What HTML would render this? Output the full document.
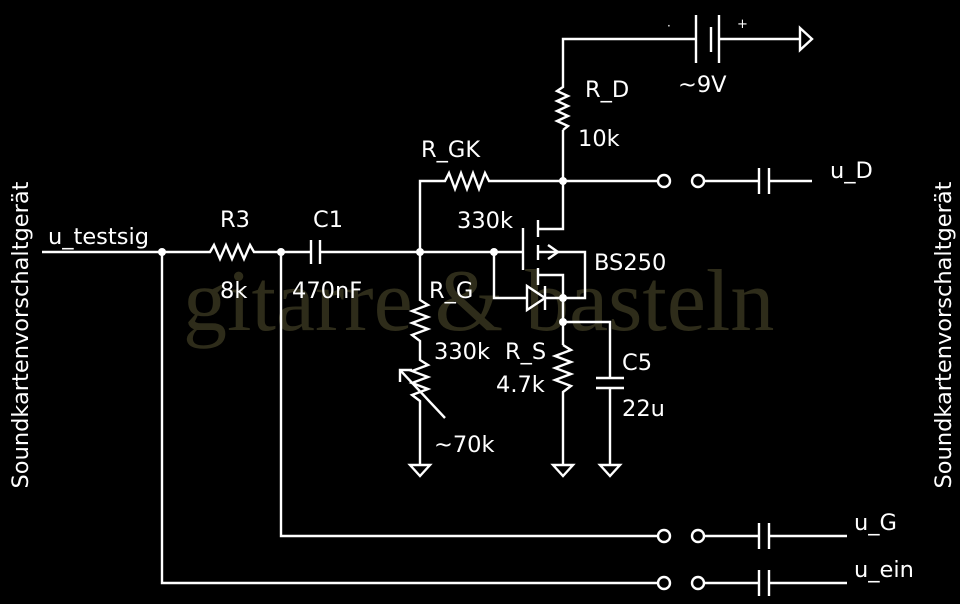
<!DOCTYPE html>
<html><head><meta charset="utf-8"><style>
html,body{margin:0;padding:0;background:#000;}
svg{display:block}
text{font-family:"DejaVu Sans","Liberation Sans",sans-serif;fill:#fff;font-size:22.5px}
</style></head><body>
<svg width="960" height="604" viewBox="0 0 960 604" xmlns="http://www.w3.org/2000/svg">
<text x="183" y="330" style="font-family:'Liberation Serif',serif;font-size:88px;fill:#2e2c1a">gitarre &amp; basteln</text>
<g stroke="#fff" stroke-width="2.4" fill="none">
<polyline points="563,181 563,130"/>
<polyline points="563,130 568,126 557,121 568,116 557,111 568,106 557,101 568,96 557,91 563,87 563,39 696,39"/>
<line x1="696" y1="15" x2="696" y2="63"/>
<line x1="711" y1="27" x2="711" y2="52"/>
<line x1="719" y1="15" x2="719" y2="63"/>
<line x1="719" y1="39" x2="800" y2="39"/>
<polygon points="800,28 812,39 800,50"/>
<polyline points="563,181 658,181"/>
<polyline points="420,251 420,181 445,181 449,173 455,189 461,173 467,189 473,173 479,189 485,173 489,181 563,181"/>
<circle cx="664" cy="181" r="6"/><circle cx="698" cy="181" r="6"/>
<line x1="704" y1="181" x2="759" y2="181"/><line x1="759" y1="168" x2="759" y2="194"/><line x1="769" y1="168" x2="769" y2="194"/><line x1="769" y1="181" x2="812" y2="181"/>
<polyline points="42,252 210,252 214,245 220,259 226,245 232,259 238,245 244,259 250,245 254,252 311,252"/>
<line x1="311" y1="240" x2="311" y2="264"/><line x1="320" y1="240" x2="320" y2="264"/>
<line x1="320" y1="252" x2="523" y2="252"/>
<line x1="523" y1="228" x2="523" y2="270"/>
<line x1="538" y1="220" x2="538" y2="237"/><line x1="538" y1="245" x2="538" y2="260"/><line x1="538" y1="268" x2="538" y2="285"/>
<polyline points="538,229 563,229 563,181"/>
<polyline points="538,252 585,252 585,298 563,298"/>
<polyline points="548,245 558,252 548,259"/>
<polyline points="538,275 563,275 563,298"/>
<polyline points="494,252 494,298 527,298"/>
<polygon points="527,286 545,298 527,310"/>
<line x1="545" y1="286" x2="545" y2="310"/><line x1="545" y1="298" x2="563" y2="298"/>
<line x1="563" y1="298" x2="563" y2="345"/>
<polyline points="563,345 571,350 555,356 571,362 555,368 571,374 555,380 571,386 563,392 563,465"/>
<polyline points="563,322 610,322 610,377"/>
<line x1="596" y1="378" x2="624" y2="378"/><line x1="596" y1="388" x2="624" y2="388"/>
<line x1="610" y1="388" x2="610" y2="465"/>
<polyline points="420,252 420,300 428,305 412,311 428,317 412,323 428,329 412,335 420,341 420,360 428,365 412,371 428,377 412,383 428,389 412,395 420,401 420,465"/>
<line x1="400" y1="370" x2="445" y2="418"/>
<polyline points="400,382 400,370 412,370"/>
<polygon points="410,465 430,465 420,476"/>
<polygon points="553,465 573,465 563,476"/>
<polygon points="600,465 620,465 610,476"/>
<polyline points="281,252 281,536 658,536"/>
<polyline points="162,252 162,583 658,583"/>
<circle cx="664" cy="536" r="6"/><circle cx="698" cy="536" r="6"/>
<line x1="704" y1="536" x2="759" y2="536"/><line x1="759" y1="523" x2="759" y2="549"/><line x1="769" y1="523" x2="769" y2="549"/><line x1="769" y1="536" x2="847" y2="536"/>
<circle cx="664" cy="583" r="6"/><circle cx="698" cy="583" r="6"/>
<line x1="704" y1="583" x2="759" y2="583"/><line x1="759" y1="570" x2="759" y2="596"/><line x1="769" y1="570" x2="769" y2="596"/><line x1="769" y1="583" x2="847" y2="583"/>
</g>
<g fill="#fff">
<circle cx="162" cy="252" r="4"/><circle cx="281" cy="252" r="4"/><circle cx="420" cy="252" r="4"/><circle cx="494" cy="252" r="4"/>
<circle cx="563" cy="181" r="4"/><circle cx="563" cy="298" r="4"/><circle cx="563" cy="322" r="4"/>
</g>
<text x="48" y="244">u_testsig</text>
<text x="220" y="227">R3</text>
<text x="220" y="298">8k</text>
<text x="313" y="227">C1</text>
<text x="292" y="298">470nF</text>
<text x="421" y="157">R_GK</text>
<text x="457" y="228">330k</text>
<text x="594" y="270">BS250</text>
<text x="429" y="298">R_G</text>
<text x="434" y="359">330k</text>
<text x="505" y="359">R_S</text>
<text x="496" y="392">4.7k</text>
<text x="622" y="370">C5</text>
<text x="622" y="416">22u</text>
<text x="434" y="452">~70k</text>
<text x="585" y="97">R_D</text>
<text x="578" y="146">10k</text>
<text x="678" y="92">~9V</text>
<text x="667" y="30" style="font-size:12px">·</text>
<text x="737" y="28" style="font-size:13px">+</text>
<text x="830" y="178">u_D</text>
<text x="854" y="530">u_G</text>
<text x="854" y="577">u_ein</text>
<text transform="translate(28,335) rotate(-90)" text-anchor="middle">Soundkartenvorschaltgerät</text>
<text transform="translate(951,335) rotate(-90)" text-anchor="middle">Soundkartenvorschaltgerät</text>
</svg>
</body></html>
